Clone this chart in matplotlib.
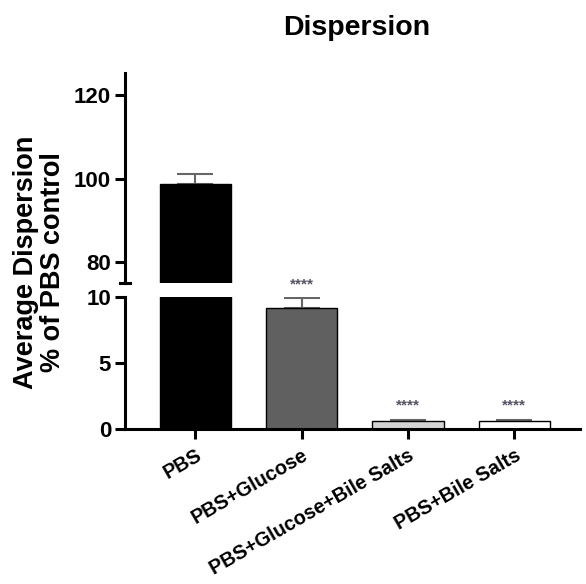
import matplotlib
matplotlib.use("Agg")

import matplotlib.pyplot as plt
import numpy as np

plt.rcParams["font.family"] = ["Liberation Sans", "DejaVu Sans"]
plt.rcParams["font.weight"] = "bold"

# ── Data ───────────────────────────────────────────────────────────────
groups = ["PBS", "PBS+Glucose", "PBS+Glucose+Bile Salts", "PBS+Bile Salts"]
means = [98.6, 9.2, 0.6, 0.6]
errors = [2.4, 0.7, 0.1, 0.1]
signif = ["", "****", "****", "****"]
colors = ["#000000", "#606060", "#d4d4d4", "#ffffff"]

top_range = (75, 125.3)
bottom_range = (0, 10)

# ── Figure ─────────────────────────────────────────────────────────────
fig = plt.figure(figsize=(5.86, 5.84), dpi=100)
ax_top = fig.add_axes([0.2133, 0.5154, 0.777, 0.3596])
ax_bot = fig.add_axes([0.2133, 0.2654, 0.777, 0.226])

x = np.arange(len(groups))
width = 0.67

for ax in (ax_top, ax_bot):
    ax.bar(x, means, width=width, color=colors, edgecolor="black", linewidth=1.0, zorder=2)
    ax.errorbar(x, means, yerr=[np.zeros(len(errors)), errors], fmt="none",
                ecolor="#666666", elinewidth=1.5, capsize=13, capthick=1.5, zorder=1)
    ax.set_xlim(-0.66, 3.62)
    for s in ("top", "right"):
        ax.spines[s].set_visible(False)
    ax.spines["left"].set_linewidth(2.2)
    ax.tick_params(axis="y", length=7, width=2.2, labelsize=16, pad=3)

ax_top.set_ylim(*top_range)
ax_top.set_yticks([80, 100, 120])
ax_top.spines["bottom"].set_visible(False)
ax_top.tick_params(axis="x", bottom=False, labelbottom=False)
# break mark at the bottom of the upper axis
ax_top.plot([-0.012, 0.012], [0, 0], transform=ax_top.transAxes, color="black",
            lw=2.2, clip_on=False)

ax_bot.set_ylim(*bottom_range)
ax_bot.set_yticks([0, 5, 10])
ax_bot.spines["bottom"].set_linewidth(2.2)
ax_bot.set_xticks(x)
ax_bot.set_xticklabels(groups, rotation=30, ha="right", rotation_mode="anchor",
                       fontsize=14.3, fontweight="bold")
ax_bot.tick_params(axis="x", length=7, width=2.2, pad=5)

for xi, m, e, s in zip(x, means, errors, signif):
    if s and m + e < bottom_range[1] + 1:
        ax_bot.annotate(s, (xi, m + e), xytext=(0, 5), textcoords="offset points",
                        ha="center", va="bottom", fontsize=11, color="#555566",
                        annotation_clip=False)

fig.text(0.609, 0.952, "Dispersion", ha="center", va="center",
         fontsize=20.5, fontweight="bold")
fig.text(0.068, 0.551, "Average Dispersion\n% of PBS control", rotation=90,
         ha="center", va="center", fontsize=19.5, fontweight="bold", linespacing=1.05)

fig.savefig("out.png", dpi=100)
